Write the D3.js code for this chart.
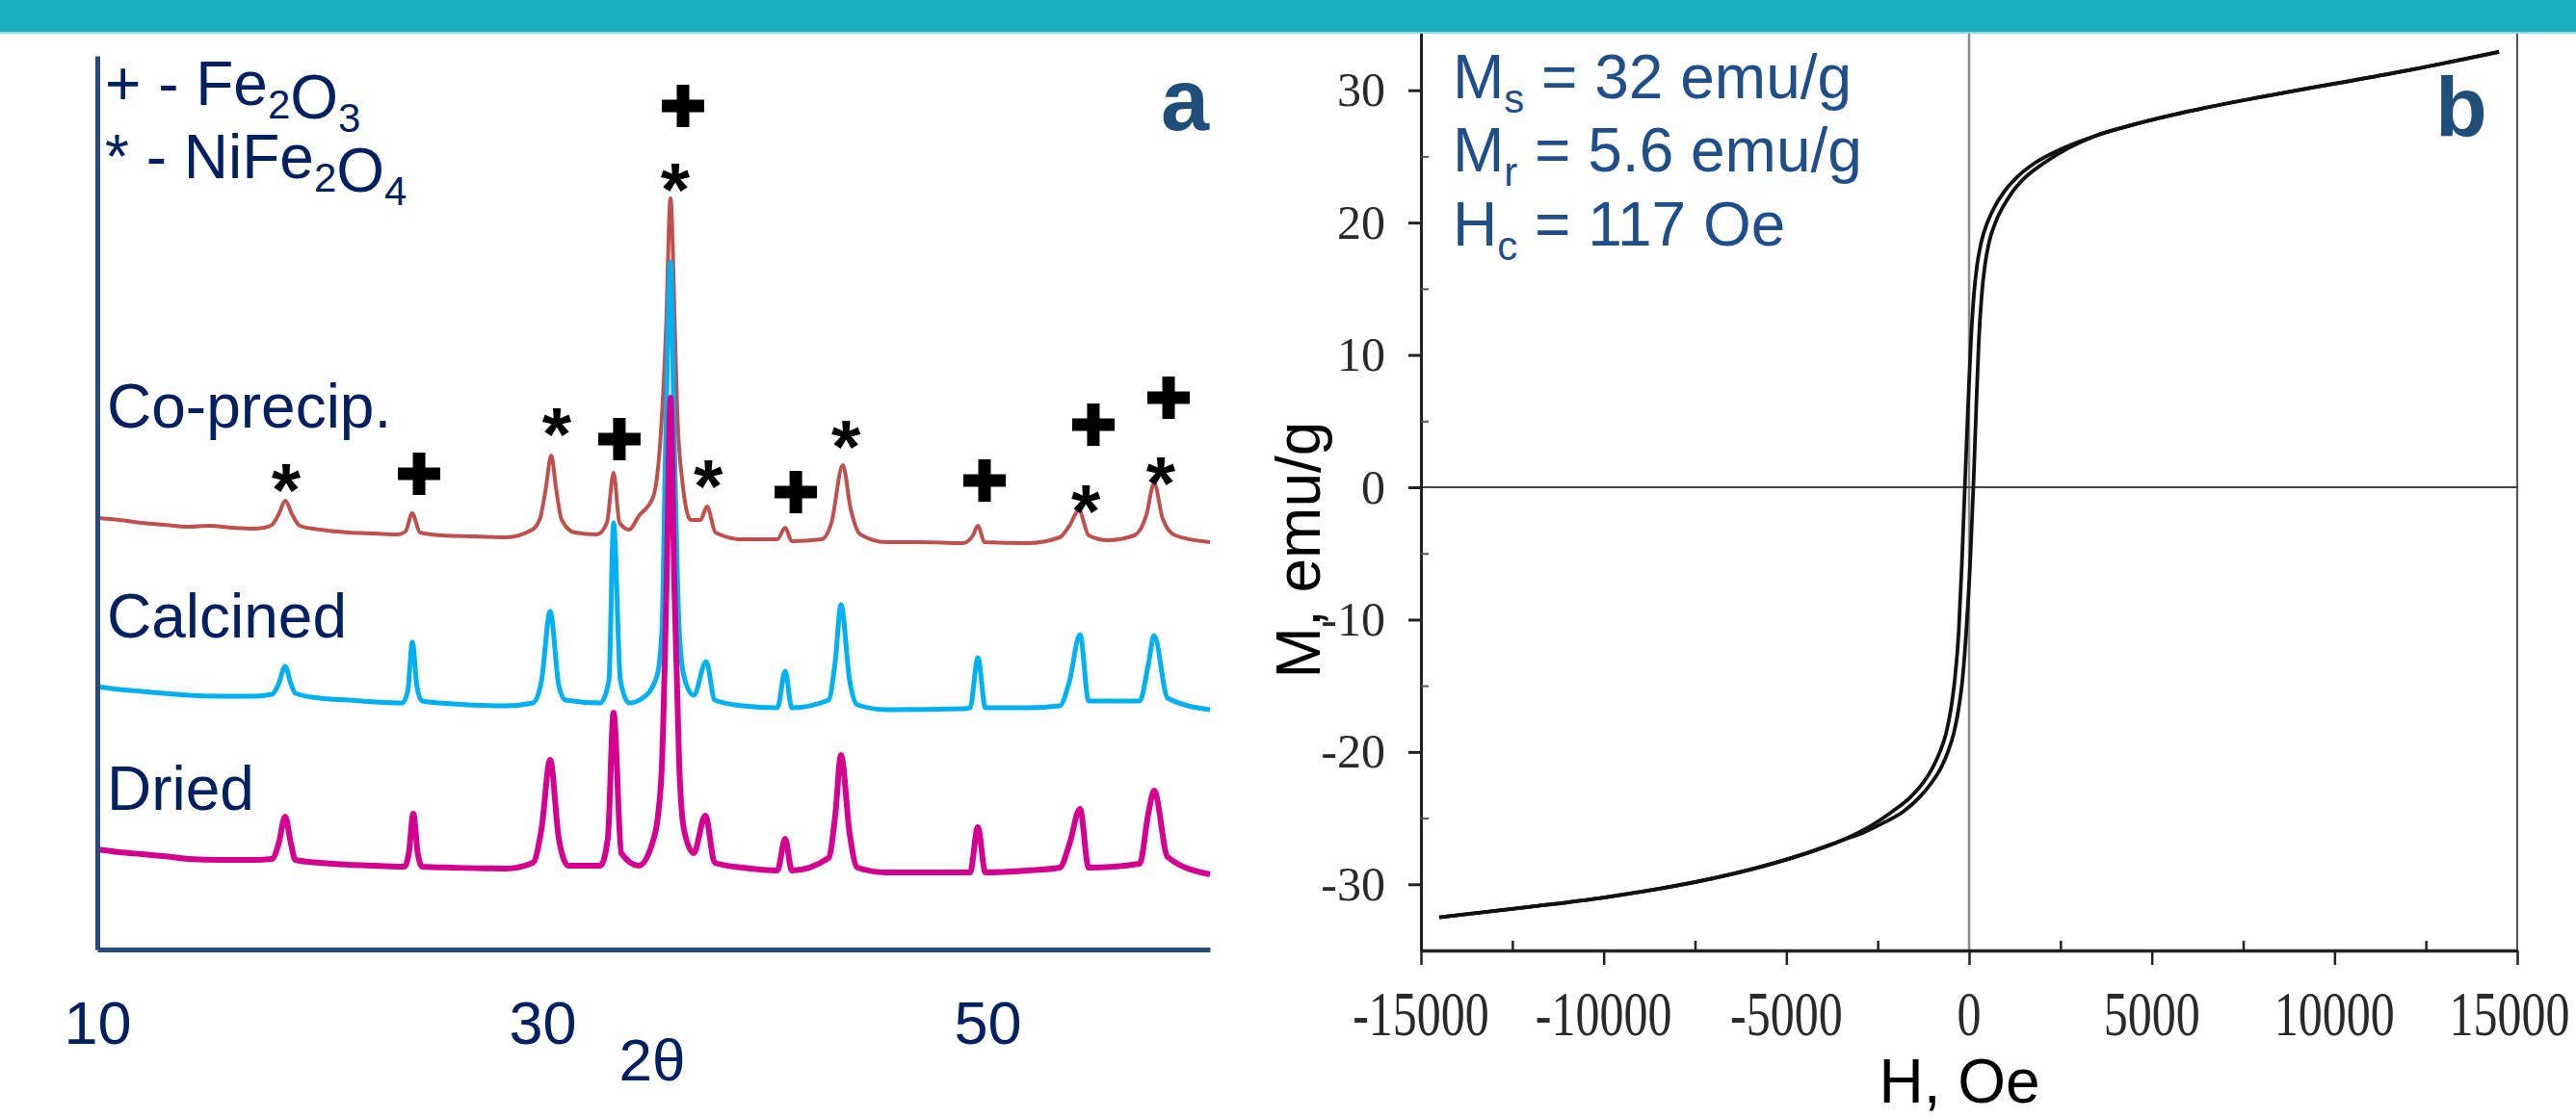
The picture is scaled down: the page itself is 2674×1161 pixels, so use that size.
<!DOCTYPE html>
<html>
<head>
<meta charset="utf-8">
<script src="https://cdn.jsdelivr.net/npm/d3@7"></script>
<style>
  body { margin: 0; background: #fff; }
  svg { display: block; }
</style>
</head>
<body>
<div id="chart"></div>
<script>
// XRD patterns: [2theta, intensity a.u.] (stacked offsets included)
const coPrecip = [[10.0,448],[11.0,446],[12.0,443],[13.0,441],[14.1,439],[15.0,440],[16.0,438],[17.0,437],[17.5,438],[17.85,441],[18.15,452],[18.45,466],[18.75,452],[19.1,440],[20.0,436],[21.3,433],[22.5,432],[23.5,431],[23.85,434],[24.15,453],[24.5,433],[25.5,430],[27.0,429],[28.35,428],[29.55,436],[29.9,448],[30.15,478],[30.4,513],[30.62,478],[30.87,446],[31.45,433],[32.45,431],[32.9,443],[33.2,495],[33.47,443],[33.9,436],[34.33,450],[34.98,470],[35.32,535],[35.55,640],[35.76,780],[35.96,640],[36.06,560],[36.28,488],[36.67,446],[37.1,446],[37.4,460],[37.78,433],[38.96,426],[40.56,426],[40.91,438],[41.21,424],[42.55,426],[42.99,443],[43.5,503],[43.85,458],[44.29,431],[45.45,423],[47.0,423],[48.9,422],[49.35,430],[49.57,440],[49.87,423],[51.8,422],[53.25,428],[53.68,440],[54.11,456],[54.55,430],[55.4,425],[56.6,430],[57.14,451],[57.49,484],[57.88,447],[58.44,430],[60.0,423]];
const calcined = [[10.0,273],[11.0,270],[12.0,268],[13.0,266],[14.1,264],[15.5,263],[17.0,263],[17.85,265],[18.15,276],[18.44,294],[18.7,276],[18.9,266],[20.0,261],[21.3,259],[22.5,257],[23.7,256],[23.95,268],[24.16,319],[24.37,272],[24.6,258],[26.0,255],[28.35,253],[29.57,256],[29.96,279],[30.35,351],[30.74,274],[31.04,259],[32.6,256],[32.99,279],[33.2,443],[33.51,279],[33.9,256],[34.5,261],[35.15,284],[35.37,331],[35.54,526],[35.76,714],[35.93,526],[36.15,331],[36.36,284],[36.8,264],[37.36,299],[37.75,259],[39.0,253],[40.56,251],[40.91,289],[41.21,251],[42.86,259],[43.16,299],[43.42,358],[43.81,279],[44.16,254],[45.45,249],[48.92,250],[49.22,251],[49.57,303],[49.91,251],[51.8,251],[53.25,253],[53.68,278],[54.16,327],[54.55,258],[56.84,258],[57.23,296],[57.49,326],[58.1,261],[60.0,249]];
const dried = [[10.0,104],[11.0,101],[12.0,99],[13.0,97],[14.1,94],[15.5,93],[17.0,93],[17.85,94],[18.15,110],[18.44,138],[18.7,110],[18.9,93],[20.0,90],[21.3,88],[22.5,87],[23.8,86],[24.0,100],[24.2,141],[24.4,100],[24.6,86],[26.0,85],[28.35,84],[29.57,90],[29.96,125],[30.35,197],[30.74,115],[31.17,87],[32.6,87],[32.94,115],[33.2,246],[33.55,100],[34.33,87],[35.06,120],[35.2,140],[35.37,191],[35.58,377],[35.76,573],[35.93,377],[36.15,191],[36.36,125],[36.8,100],[37.32,139],[37.75,90],[39.0,85],[40.56,82],[40.91,115],[41.21,82],[42.86,95],[43.16,139],[43.42,202],[43.81,120],[44.16,85],[45.45,80],[48.92,80],[49.22,80],[49.57,127],[49.91,80],[51.8,82],[53.25,85],[53.68,109],[54.16,146],[54.55,85],[56.84,89],[57.23,141],[57.49,165],[58.1,96],[60.0,78]];
const xrdTicks = [10, 30, 50];

// phase markers above the co-precipitated pattern: [2theta, intensity]
const fe2o3Marks = [[36.32,876],[24.46,494],[33.46,530],[41.39,475],[49.87,487],[54.76,545],[58.14,573]];
const nife2o4Marks = [[35.97,806],[18.48,494],[30.65,552],[37.45,498],[43.64,539],[54.42,472],[57.79,501]];

// hysteresis loop: [H (Oe), M (emu/g)]
const descBranch = [[-14500,-32.5],[-12000,-31.7],[-10000,-31.0],[-8000,-30.1],[-6000,-28.9],[-4500,-27.7],[-3500,-26.7],[-2700,-25.6],[-2100,-24.5],[-1600,-23.4],[-1250,-22.3],[-1000,-21.2],[-800,-20.0],[-630,-18.6],[-500,-16.8],[-390,-14.5],[-285,-11.0],[-195,-5.6],[-117,0],[-30,6.0],[50,11.0],[130,14.5],[220,16.8],[340,18.6],[500,20.0],[700,21.2],[950,22.3],[1300,23.4],[1800,24.5],[2400,25.4],[3000,26.1],[3500,26.6],[4500,27.4],[6000,28.4],[8000,29.5],[10000,30.5],[12000,31.5],[14500,32.9]];
const ascBranch = [[-14500,-32.5],[-12000,-31.7],[-10000,-31.0],[-8000,-30.1],[-6000,-28.9],[-4500,-27.7],[-3500,-26.7],[-2900,-26.1],[-2300,-25.3],[-1800,-24.5],[-1350,-23.4],[-1020,-22.3],[-770,-21.2],[-580,-20.0],[-420,-18.6],[-290,-16.8],[-180,-14.5],[-80,-11.0],[25,-6.0],[117,0],[190,5.6],[265,11.0],[345,14.5],[435,16.8],[555,18.6],[720,20.0],[930,21.2],[1180,22.3],[1530,23.4],[2050,24.5],[2700,25.6],[3500,26.6],[4500,27.4],[6000,28.4],[8000,29.5],[10000,30.5],[12000,31.5],[14500,32.9]];
const hTicks = [-15000, -10000, -5000, 0, 5000, 10000, 15000];
const hMinor = [-12500, -7500, -2500, 2500, 7500, 12500];
const mTicks = [-30, -20, -10, 0, 10, 20, 30];
const mMinor = [-25, -15, -5, 5, 15, 25];

const W = 2674, H = 1161;
const navy = '#002060', blue = '#1f4e89';
const svg = d3.select('#chart').append('svg').attr('width', W).attr('height', H);

// ---------- panel a : XRD ----------
const xa = d3.scaleLinear().domain([10, 60]).range([101, 1256]);
const ya = d3.scaleLinear().domain([0, 928]).range([986, 58]);
const a = svg.append('g');

const line = d3.line().x((d) => xa(d[0])).y((d) => ya(d[1])).curve(d3.curveMonotoneX);
const series = [
  { data: coPrecip, color: '#c0504d', w: 4 },
  { data: calcined, color: '#00b0f0', w: 5 },
  { data: dried, color: '#d4008f', w: 6 },
];
a.selectAll('.xrd').data(series).enter().append('path')
  .attr('d', (d) => line(d.data))
  .attr('fill', 'none')
  .attr('stroke', (d) => d.color)
  .attr('stroke-width', (d) => d.w)
  .attr('stroke-linejoin', 'round');

const axisColor = '#284b7d';
const xAxisA = a.append('g').attr('transform', 'translate(0,986)')
  .call(d3.axisBottom(xa).tickValues(xrdTicks).tickSize(0).tickPadding(53).tickSizeOuter(0));
xAxisA.select('.domain').attr('stroke', axisColor).attr('stroke-width', 5);
xAxisA.selectAll('text').attr('fill', navy).style('font-family', 'Liberation Sans, Arial, sans-serif').style('font-size', '63px');
const yAxisA = a.append('g').attr('transform', 'translate(101,0)')
  .call(d3.axisLeft(ya).tickValues([]).tickSizeOuter(0));
yAxisA.select('.domain').attr('stroke', axisColor).attr('stroke-width', 5);

const sans = 'Liberation Sans, Arial, sans-serif';
a.append('text').attr('x', 677).attr('y', 1122).attr('text-anchor', 'middle')
  .attr('fill', navy).style('font-family', sans).style('font-size', '62px').text('2θ');

// plus markers
const ph = 22, pt = 6.5;
const plusPath = `M${-pt},${-ph}H${pt}V${-pt}H${ph}V${pt}H${pt}V${ph}H${-pt}V${pt}H${-ph}V${-pt}H${-pt}Z`;
a.selectAll('.plus').data(fe2o3Marks).enter().append('path')
  .attr('d', plusPath)
  .attr('transform', (d) => `translate(${xa(d[0])},${ya(d[1])})`)
  .attr('fill', '#000');
a.selectAll('.star').data(nife2o4Marks).enter().append('text')
  .attr('x', (d) => xa(d[0])).attr('y', (d) => ya(d[1]) + 44)
  .attr('text-anchor', 'middle').attr('fill', '#000')
  .style('font-family', sans).style('font-weight', 'bold').style('font-size', '78px').text('*');

// legend and sample names
function formula(g, x, y, parts) {
  const t = g.append('text').attr('x', x).attr('y', y).attr('fill', navy)
    .style('font-family', sans).style('font-size', '64px');
  parts.forEach((p) => {
    if (p.sub) {
      t.append('tspan').attr('dy', 14).style('font-size', '42px').text(p.sub);
      t.append('tspan').attr('dy', -14).text('');
    } else {
      t.append('tspan').text(p.t);
    }
  });
  return t;
}
formula(a, 109, 109, [{ t: '+ - Fe' }, { sub: '2' }, { t: 'O' }, { sub: '3' }]);
formula(a, 109, 185, [{ t: '* - NiFe' }, { sub: '2' }, { t: 'O' }, { sub: '4' }]);
const sampleNames = [['Co-precip.', 444], ['Calcined', 662], ['Dried', 841]];
a.selectAll('.name').data(sampleNames).enter().append('text')
  .attr('x', 111).attr('y', (d) => d[1]).attr('fill', navy)
  .style('font-family', sans).style('font-size', '64px').text((d) => d[0]);
a.append('text').attr('x', 1205).attr('y', 135).attr('fill', '#1f4e79')
  .style('font-family', sans).style('font-weight', 'bold').style('font-size', '90px').text('a');

// ---------- panel b : hysteresis ----------
const xb = d3.scaleLinear().domain([-15000, 15000]).range([1475, 2613]);
const yb = d3.scaleLinear().domain([-35, 35]).range([987, 25]);
const b = svg.append('g');

// frame and zero lines
b.append('line').attr('x1', xb(15000)).attr('x2', xb(15000)).attr('y1', yb(35)).attr('y2', yb(-35))
  .attr('stroke', '#555').attr('stroke-width', 2);
b.append('line').attr('x1', xb(0)).attr('x2', xb(0)).attr('y1', yb(35)).attr('y2', yb(-35))
  .attr('stroke', '#8a8a8a').attr('stroke-width', 2.5);
b.append('line').attr('x1', xb(-15000) - 13).attr('x2', xb(15000)).attr('y1', yb(0)).attr('y2', yb(0))
  .attr('stroke', '#444').attr('stroke-width', 2);

const serif = 'Liberation Serif, Times New Roman, serif';
const yAxisB = b.append('g').attr('transform', `translate(${xb(-15000)},0)`)
  .call(d3.axisLeft(yb).tickValues(mTicks).tickFormat(String).tickSize(13).tickPadding(24).tickSizeOuter(0));
yAxisB.select('.domain').attr('stroke', '#222').attr('stroke-width', 3);
yAxisB.selectAll('line').attr('stroke', '#222').attr('stroke-width', 3);
yAxisB.selectAll('text').attr('fill', '#2a2a2a').style('font-family', serif).style('font-size', '50px');
b.append('g').attr('transform', `translate(${xb(-15000)},0)`)
  .call(d3.axisRight(yb).tickValues(mMinor).tickSize(8).tickFormat('').tickSizeOuter(0))
  .call((g) => g.select('.domain').remove())
  .selectAll('line').attr('stroke', '#555').attr('stroke-width', 2);

const xAxisB = b.append('g').attr('transform', `translate(0,${yb(-35)})`)
  .call(d3.axisBottom(xb).tickValues(hTicks).tickSize(15).tickFormat('').tickSizeOuter(0));
xAxisB.select('.domain').attr('stroke', '#222').attr('stroke-width', 3.5);
xAxisB.selectAll('line').attr('stroke', '#222').attr('stroke-width', 2.5);
b.append('g').attr('transform', `translate(0,${yb(-35)})`)
  .call(d3.axisTop(xb).tickValues(hMinor).tickSize(10).tickFormat('').tickSizeOuter(0))
  .call((g) => g.select('.domain').remove())
  .selectAll('line').attr('stroke', '#222').attr('stroke-width', 2.5);
b.selectAll('.hlab').data(hTicks).enter().append('text')
  .attr('transform', (d) => `translate(${d === 15000 ? xb(d) - 8 : xb(d)},1053) scale(1,1.3)`)
  .attr('text-anchor', 'middle').attr('dy', '0.34em')
  .attr('fill', '#2a2a2a').style('font-family', serif).style('font-size', '50px')
  .text((d) => d);

const hline = d3.line().x((d) => xb(d[0])).y((d) => yb(d[1])).curve(d3.curveMonotoneX);
b.selectAll('.loop').data([descBranch, ascBranch]).enter().append('path')
  .attr('d', (d) => hline(d))
  .attr('fill', 'none').attr('stroke', '#111').attr('stroke-width', 3.8);

b.append('text').attr('x', 2034).attr('y', 1145).attr('text-anchor', 'middle')
  .attr('fill', '#000').style('font-family', sans).style('font-size', '64px').text('H, Oe');
b.append('text').attr('transform', 'translate(1370,571) rotate(-90)').attr('text-anchor', 'middle')
  .attr('fill', '#000').style('font-family', sans).style('font-size', '64px').text('M, emu/g');

const params = [['M', 's', ' = 32 emu/g', 102], ['M', 'r', ' = 5.6 emu/g', 178], ['H', 'c', ' = 117 Oe', 255]];
params.forEach((p) => {
  const t = b.append('text').attr('x', 1508).attr('y', p[3]).attr('fill', blue)
    .style('font-family', sans).style('font-size', '64px');
  t.append('tspan').text(p[0]);
  t.append('tspan').attr('dy', 15).style('font-size', '42px').text(p[1]);
  t.append('tspan').attr('dy', -15).text(p[2]);
});
b.append('text').attr('x', 2528).attr('y', 141).attr('fill', '#1f4e79')
  .style('font-family', sans).style('font-weight', 'bold').style('font-size', '88px').text('b');

// top banner
svg.append('rect').attr('x', 0).attr('y', 0).attr('width', W).attr('height', 33).attr('fill', '#17afbe');
svg.append('rect').attr('x', 0).attr('y', 33).attr('width', W).attr('height', 2).attr('fill', '#8fd6de');
</script>
</body>
</html>
